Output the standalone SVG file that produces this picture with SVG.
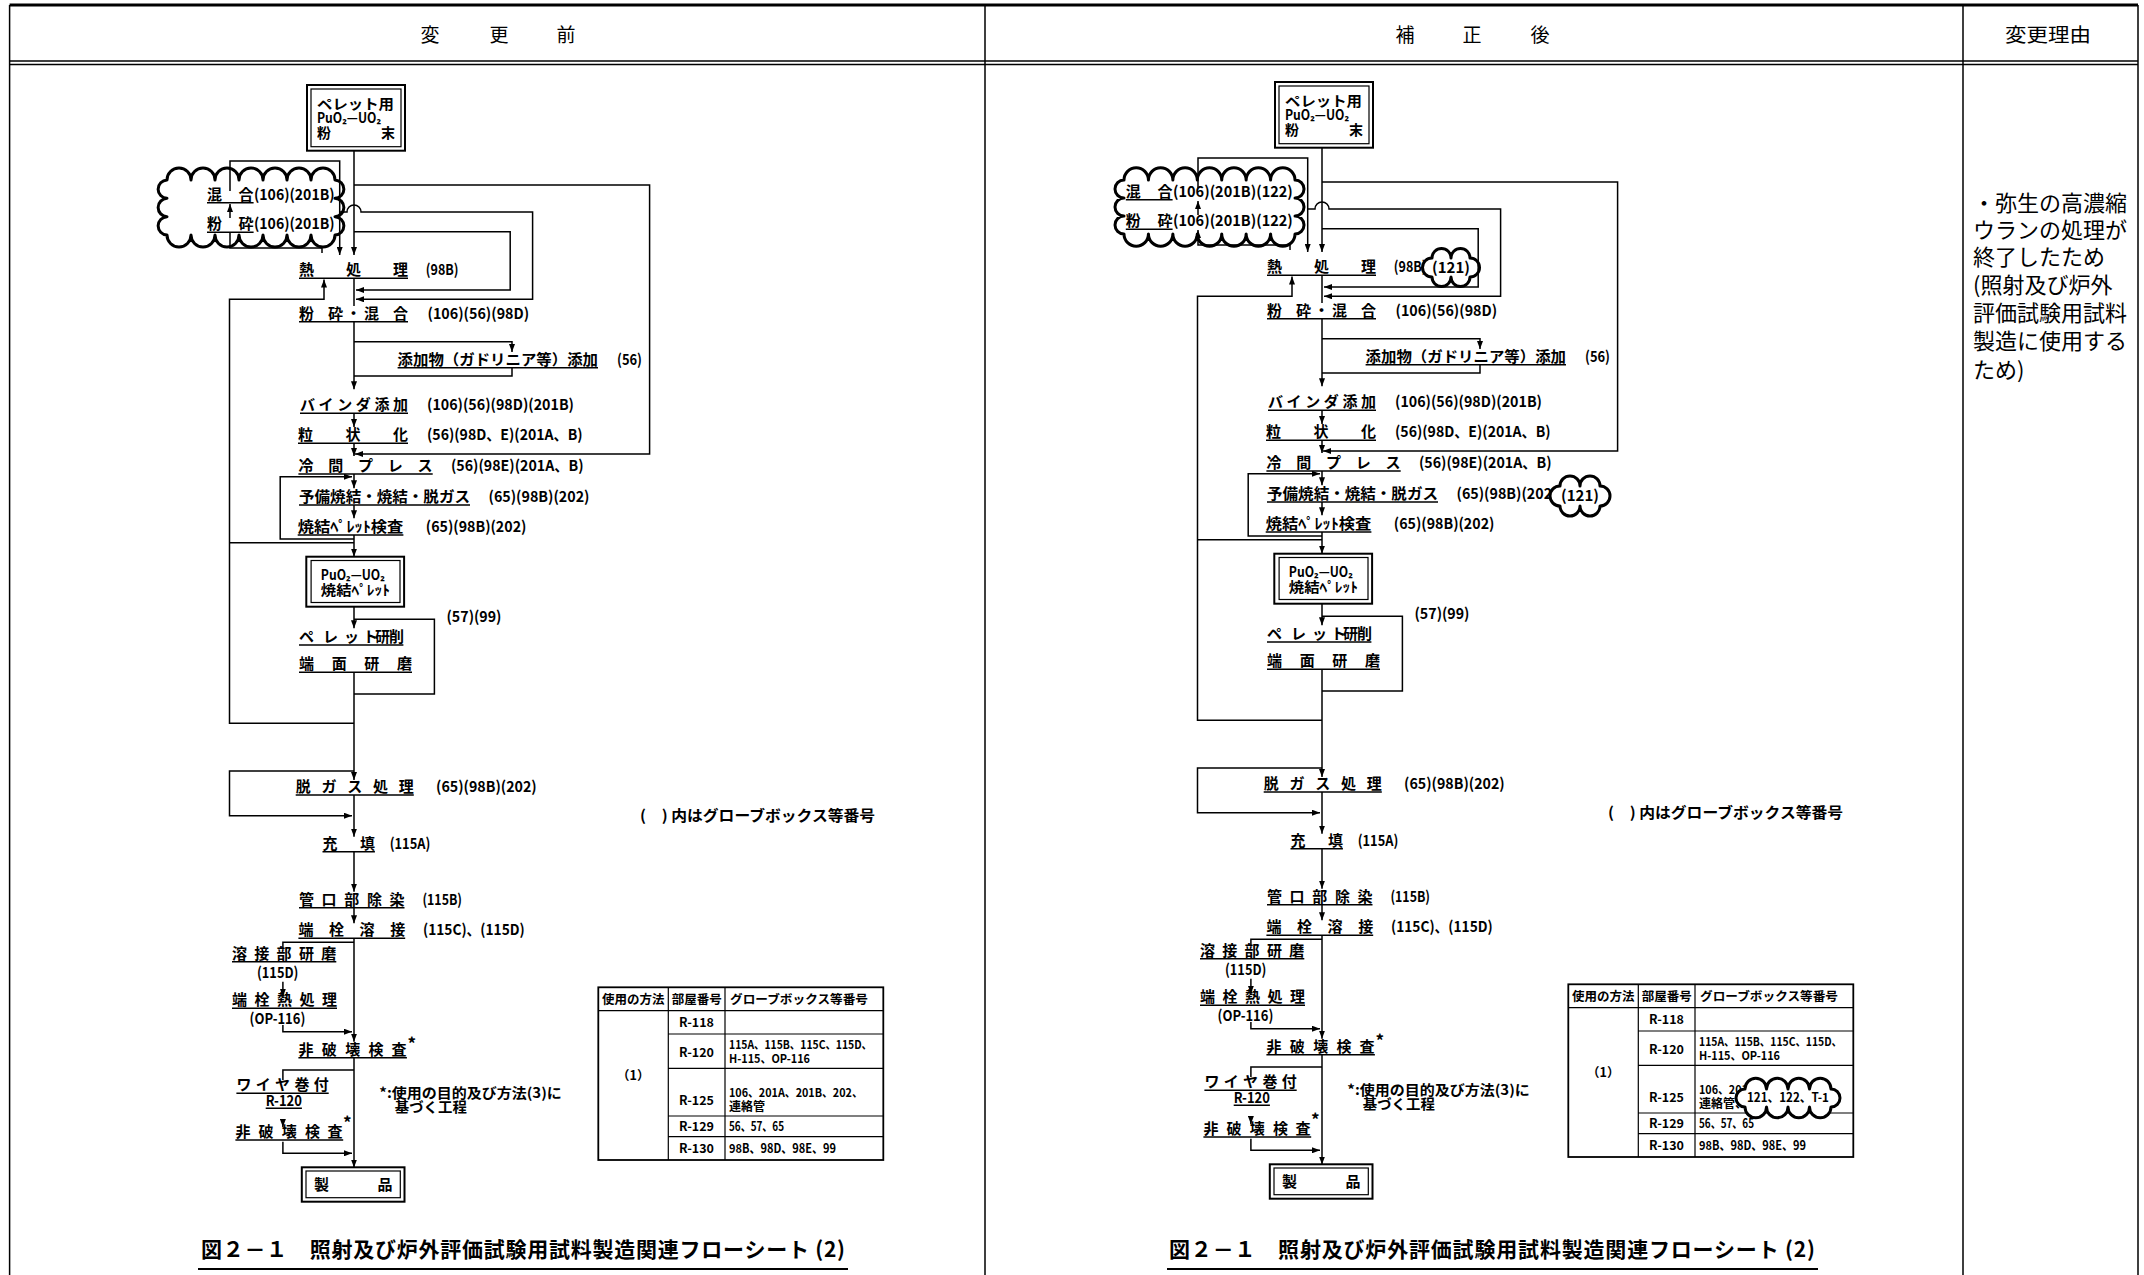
<svg xmlns="http://www.w3.org/2000/svg" width="2144" height="1275" viewBox="0 0 2144 1275">
<style>
.t{font-family:"Noto Sans CJK JP","Noto Sans",sans-serif;font-weight:700;font-size:15px;fill:#000}
.b{font-size:14px}
.ast{font-size:17px}
.tt{font-family:"Noto Sans CJK JP","Noto Sans",sans-serif;font-weight:700;font-size:12.5px;fill:#000}
.ts{font-size:12px}
.hd{font-family:"Noto Sans CJK JP",sans-serif;font-size:19px;fill:#000}
.cap{font-family:"Noto Sans CJK JP",sans-serif;font-weight:700;font-size:21px;fill:#000}
.rs{font-family:"Noto Sans CJK JP",sans-serif;font-size:22px;fill:#000}
.ul{stroke:#000;stroke-width:1.4;fill:none}
.cn{fill:none;stroke:#000;stroke-width:1.5}
.ar{marker-end:url(#ah)}
.bo{fill:#fff;stroke:#000;stroke-width:2}
.bi{fill:none;stroke:#000;stroke-width:1.2}
.cl{fill:#fff;stroke:#000;stroke-width:3;stroke-linejoin:round}
.tbo{fill:#fff;stroke:#000;stroke-width:1.8}
.tb{fill:none;stroke:#000;stroke-width:1.2}
.fr{fill:none;stroke:#000;stroke-width:1.5}
</style>
<defs>
<marker id="ah" viewBox="0 0 8 6" refX="8" refY="3" markerWidth="8" markerHeight="6" markerUnits="userSpaceOnUse" orient="auto"><path d="M0,0L8,3L0,6z" fill="#000"/></marker>
</defs>
<rect x="0" y="0" width="2144" height="1275" fill="#fff"/>

<g id="frame">
<path class="fr" style="stroke-width:3" d="M9.6,5H2138"/>
<path class="fr" d="M9.6,61H2138M9.6,64.5H2138"/>
<path class="fr" d="M9.6,5V1275M985,5V1275M1963,5V1275M2138,5V1275"/>
</g>
<g id="header">
<text class="hd" x="430" y="42" text-anchor="middle">変</text>
<text class="hd" x="499" y="42" text-anchor="middle">更</text>
<text class="hd" x="566" y="42" text-anchor="middle">前</text>
<text class="hd" x="1405" y="42" text-anchor="middle">補</text>
<text class="hd" x="1472" y="42" text-anchor="middle">正</text>
<text class="hd" x="1540" y="42" text-anchor="middle">後</text>
<text class="hd" x="2005" y="42" textLength="86" lengthAdjust="spacingAndGlyphs">変更理由</text>
</g>

<g id="reason">
<text class="rs" x="1973" y="211">・弥生の高濃縮</text>
<text class="rs" x="1973" y="238">ウランの処理が</text>
<text class="rs" x="1973" y="265">終了したため</text>
<text class="rs" x="1973" y="293">(照射及び炉外</text>
<text class="rs" x="1973" y="321">評価試験用試料</text>
<text class="rs" x="1973" y="349">製造に使用する</text>
<text class="rs" x="1973" y="378">ため)</text>
</g>

<g id="captions">
<text class="cap" x="201" y="1257" textLength="644" lengthAdjust="spacing">図２－１　照射及び炉外評価試験用試料製造関連フローシート (2)</text>
<path class="fr" style="stroke-width:2.2" d="M198,1269H848"/>
<text class="cap" x="1169" y="1257" textLength="646" lengthAdjust="spacing">図２－１　照射及び炉外評価試験用試料製造関連フローシート (2)</text>
<path class="fr" style="stroke-width:2.2" d="M1167,1269H1818"/>
</g>

<!-- ================= LEFT PANEL (変更前) ================= -->
<g id="panel-before">
<g id="cloud-mix-before"><path class="cl" d="M167,180a12,12 0 0 1 24,0a12,12 0 0 1 24,0a12,12 0 0 1 24,0a12,12 0 0 1 24,0a12,12 0 0 1 24,0a12,12 0 0 1 24,0a12,12 0 0 1 24,0a9.17,9.17 0 0 1 0,18.33a9.17,9.17 0 0 1 0,18.33a9.17,9.17 0 0 1 0,18.33a12,12 0 0 1 -24,0a12,12 0 0 1 -24,0a12,12 0 0 1 -24,0a12,12 0 0 1 -24,0a12,12 0 0 1 -24,0a12,12 0 0 1 -24,0a12,12 0 0 1 -24,0a9.17,9.17 0 0 1 0,-18.33a9.17,9.17 0 0 1 0,-18.33a9.17,9.17 0 0 1 0,-18.33z"/></g>

<g id="n-powder"><rect class="bo" x="307" y="85" width="98" height="65.7"/><rect class="bi" x="311" y="89" width="90" height="57.7"/><text class="t b" x="317" y="109" textLength="77" lengthAdjust="spacingAndGlyphs">ペレット用</text><text class="t b" x="317" y="122.5" textLength="64" lengthAdjust="spacingAndGlyphs">PuO₂—UO₂</text><text class="t b" x="317 381" y="138">粉末</text></g>
<g id="n-mix"><text class="t" x="207 238.6" y="199.7">混合</text><text class="t" x="254" y="199.7" textLength="80.6" lengthAdjust="spacingAndGlyphs">(106)(201B)</text><path class="ul" d="M207,202.7H253.6"/></g>
<g id="n-crush"><text class="t" x="207 238.6" y="229.3">粉砕</text><text class="t" x="254" y="229.3" textLength="80.6" lengthAdjust="spacingAndGlyphs">(106)(201B)</text><path class="ul" d="M207,232.3H253.6"/></g>
<g id="n-heat"><text class="t" x="299 346 393" y="275.3">熱処理</text><text class="t" x="425.8" y="275.3" textLength="32.7" lengthAdjust="spacingAndGlyphs">(98B)</text><path class="ul" d="M299,278.3H408"/></g>
<g id="n-crushmix"><text class="t" x="299 328 346 364 393" y="318.7">粉砕・混合</text><text class="t" x="427.5" y="318.7" textLength="101.6" lengthAdjust="spacingAndGlyphs">(106)(56)(98D)</text><path class="ul" d="M299,321.7H408"/></g>
<g id="n-additive"><text class="t" x="397.6" y="364.7" textLength="200.4" lengthAdjust="spacingAndGlyphs">添加物（ガドリニア等）添加</text><text class="t" x="617" y="364.7" textLength="25" lengthAdjust="spacingAndGlyphs">(56)</text><path class="ul" d="M397.6,367.7H598"/></g>
<g id="n-binder"><text class="t" x="300 318.6 337.2 355.8 374.4 393" y="410.3">バインダ添加</text><text class="t" x="427" y="410.3" textLength="147" lengthAdjust="spacingAndGlyphs">(106)(56)(98D)(201B)</text><path class="ul" d="M300,413.3H408"/></g>
<g id="n-granule"><text class="t" x="298 345.5 393" y="440.3">粒状化</text><text class="t" x="427" y="440.3" textLength="155.6" lengthAdjust="spacingAndGlyphs">(56)(98D、E)(201A、B)</text><path class="ul" d="M298,443.3H408"/></g>
<g id="n-press"><text class="t" x="298.4 328.2 358 387.8 417.6" y="471">冷間プレス</text><text class="t" x="451" y="471" textLength="132.5" lengthAdjust="spacingAndGlyphs">(56)(98E)(201A、B)</text><path class="ul" d="M298.4,474H432.7"/></g>
<g id="n-sinter"><text class="t" x="299" y="502" textLength="171" lengthAdjust="spacingAndGlyphs">予備焼結・焼結・脱ガス</text><text class="t" x="488.5" y="502" textLength="101" lengthAdjust="spacingAndGlyphs">(65)(98B)(202)</text><path class="ul" d="M299,505H470"/></g>
<g id="n-inspect"><text class="t" x="297.7" y="532" textLength="105.7" lengthAdjust="spacingAndGlyphs">焼結ﾍﾟﾚｯﾄ検査</text><text class="t" x="425.8" y="532" textLength="100.6" lengthAdjust="spacingAndGlyphs">(65)(98B)(202)</text><path class="ul" d="M297.7,535H403.4"/></g>
<g id="n-pellet"><rect class="bo" x="306.3" y="556.7" width="97.8" height="50"/><rect class="bi" x="311.1" y="560.5" width="88.9" height="42"/><text class="t b" x="320.8" y="580" textLength="64" lengthAdjust="spacingAndGlyphs">PuO₂—UO₂</text><text class="t b" x="320.8" y="595" textLength="69" lengthAdjust="spacingAndGlyphs">焼結ﾍﾟﾚｯﾄ</text></g>
<g id="n-grind"><text class="t" x="299 323 344 363 375 389" y="642">ペレット研削</text><text class="t" x="446.5" y="622" textLength="55" lengthAdjust="spacingAndGlyphs">(57)(99)</text><path class="ul" d="M299,645H403.4"/></g>
<g id="n-endface"><text class="t" x="299 331.7 364.3 397" y="669.3">端面研磨</text><path class="ul" d="M299,672.3H412"/></g>
<g id="n-degas"><text class="t" x="295.7 321.5 347.3 373 398.8" y="792">脱ガス処理</text><text class="t" x="436" y="792" textLength="100.7" lengthAdjust="spacingAndGlyphs">(65)(98B)(202)</text><path class="ul" d="M295.7,795H413.8"/></g>
<g id="n-fill"><text class="t" x="322.5 359.9" y="848.7">充填</text><text class="t" x="389.7" y="848.7" textLength="40.6" lengthAdjust="spacingAndGlyphs">(115A)</text><path class="ul" d="M322.5,851.7H374.9"/></g>
<g id="n-decon"><text class="t" x="299 321.6 344.3 366.9 389.5" y="904.7">管口部除染</text><text class="t" x="422.4" y="904.7" textLength="39.6" lengthAdjust="spacingAndGlyphs">(115B)</text><path class="ul" d="M299,907.7H404.5"/></g>
<g id="n-weld"><text class="t" x="298.4 329 359.6 390.2" y="935.3">端栓溶接</text><text class="t" x="423" y="935.3" textLength="101.7" lengthAdjust="spacingAndGlyphs">(115C)、(115D)</text><path class="ul" d="M298.4,938.3H405.2"/></g>
<g id="n-weldgrind"><text class="t" x="232 254.3 276.6 299 321.3" y="958.7">溶接部研磨</text><text class="t" x="257" y="977.5" textLength="41.4" lengthAdjust="spacingAndGlyphs">(115D)</text><path class="ul" d="M232,961.7H336.3"/></g>
<g id="n-plugheat"><text class="t" x="232 254.5 277 299.5 322" y="1005.3">端栓熱処理</text><text class="t" x="249.5" y="1023.5" textLength="55.8" lengthAdjust="spacingAndGlyphs">(OP-116)</text><path class="ul" d="M232,1008.3H337"/></g>
<g id="n-ndt1"><text class="t" x="298.4 321.8 345.2 368.6 391.5" y="1054.7">非破壊検査</text><text class="t ast" x="407.5" y="1050">*</text><path class="ul" d="M298.4,1057.7H406.9"/></g>
<g id="n-wire"><text class="t" x="236.4 255.7 275 294.4 313.7" y="1090.3">ワイヤ巻付</text><text class="t" x="265.7" y="1105.8" textLength="36.2" lengthAdjust="spacingAndGlyphs">R-120</text><path class="ul" d="M236.4,1093.3H328.7M265.7,1108.3H301.9"/></g>
<g id="n-ndt2"><text class="t" x="235.4 258.6 281.8 305 327.5" y="1137">非破壊検査</text><text class="t ast" x="343" y="1129">*</text><path class="ul" d="M235.4,1140H343.2"/></g>
<g id="n-product"><rect class="bo" x="301.8" y="1167.3" width="102.7" height="34.4"/><rect class="bi" x="306" y="1171" width="94.3" height="26.7"/><text class="t" x="314 377.6" y="1190">製品</text></g>
<g id="note-before"><text class="t b" x="379.3" y="1098" textLength="182.5" lengthAdjust="spacingAndGlyphs">*:使用の目的及び方法(3)に</text><text class="t b" x="394.8" y="1112" textLength="72" lengthAdjust="spacingAndGlyphs">基づく工程</text></g>
<g id="legend-before"><text class="t" x="640" y="821" textLength="235" lengthAdjust="spacingAndGlyphs">(　) 内はグローブボックス等番号</text></g>

<g id="connectors-before">
<path class="cn ar" d="M354,150.7V255"/>
<path class="cn" d="M322,253V248H230V233"/>
<path class="cn ar" d="M230,218V204"/>
<path class="cn ar" d="M230,191V161H339.7V255"/>
<path class="cn ar" d="M354,185H649.6V454H355"/>
<path class="cn ar" d="M339.7,212H347A7,7 0 0 1 361,212H532.6V299.3H356"/>
<path class="cn ar" d="M354,231.7H510.2V290H356"/>
<path class="cn" d="M354,278.3V306"/>
<path class="cn ar" d="M354,723.3H229.5V299.3H324V279.5"/>
<path class="cn ar" d="M354,321.7V389.3"/>
<path class="cn ar" d="M354,341.7H512V352"/>
<path class="cn" d="M512,367.7V376H354"/>
<path class="cn ar" d="M354,413.3V427"/>
<path class="cn ar" d="M354,443.3V456"/>
<path class="cn ar" d="M354,474V488.3"/>
<path class="cn ar" d="M354,539H280.2V476.7H352"/>
<path class="cn ar" d="M354,505V518.3"/>
<path class="cn ar" d="M354,535V556.7"/>
<path class="cn" d="M354,542.7H229.5"/>
<path class="cn ar" d="M354,606.7V628.3"/>
<path class="cn" d="M354,619.3H434.4V694H354"/>
<path class="cn ar" d="M354,672.3V780"/>
<path class="cn ar" d="M354,771H229.5V815.7H352"/>
<path class="cn ar" d="M354,795V836.7"/>
<path class="cn ar" d="M354,851.7V891.7"/>
<path class="cn ar" d="M354,907.7V923.3"/>
<path class="cn ar" d="M354,938.3V1041.7"/>
<path class="cn" d="M354,942.3H282.9V948.3"/>
<path class="cn ar" d="M282.9,981.7V996.7"/>
<path class="cn ar" d="M282.9,1025V1031.7H352"/>
<path class="cn ar" d="M354,1057.7V1167.5"/>
<path class="cn" d="M354,1070H282.9V1080"/>
<path class="cn ar" d="M282.9,1119.3V1127"/>
<path class="cn ar" d="M282.9,1141.7V1153.3H352"/>
</g>

<g id="table-before">
<rect class="tbo" x="598.3" y="987.3" width="285" height="172.7"/>
<path class="tb" d="M598.3,1010.7H883.3M668.3,987.3V1160M725,987.3V1160M668.3,1034H883.3M668.3,1068.3H883.3M668.3,1116H883.3M668.3,1136.7H883.3"/>
<text class="tt" x="633.3" y="1004" text-anchor="middle">使用の方法</text>
<text class="tt" x="696.7" y="1004" text-anchor="middle">部屋番号</text>
<text class="tt" x="730" y="1004" textLength="138" lengthAdjust="spacingAndGlyphs">グローブボックス等番号</text>
<text class="tt" x="633.3" y="1080" text-anchor="middle">（1）</text>
<text class="tt" x="696.5" y="1027" text-anchor="middle">R-118</text>
<text class="tt" x="696.5" y="1056.5" text-anchor="middle">R-120</text>
<text class="tt ts" x="729" y="1049" textLength="143" lengthAdjust="spacingAndGlyphs">115A、115B、115C、115D、</text>
<text class="tt ts" x="729" y="1062.5" textLength="81" lengthAdjust="spacingAndGlyphs">H-115、OP-116</text>
<text class="tt" x="696.5" y="1104.5" text-anchor="middle">R-125</text>
<text class="tt ts" x="729" y="1097" textLength="133.7" lengthAdjust="spacingAndGlyphs">106、201A、201B、202、</text>
<text class="tt ts" x="729" y="1111">連絡管</text>
<text class="tt" x="696.5" y="1131" text-anchor="middle">R-129</text>
<text class="tt" x="729" y="1131" textLength="55" lengthAdjust="spacingAndGlyphs">56、57、65</text>
<text class="tt" x="696.5" y="1153" text-anchor="middle">R-130</text>
<text class="tt" x="729" y="1153" textLength="107" lengthAdjust="spacingAndGlyphs">98B、98D、98E、99</text>
</g>
</g>

<!-- ================= RIGHT PANEL (補正後) ================= -->
<g id="panel-after" transform="translate(968,-3)">
<g id="cloud-mix-after"><path class="cl" d="M156,183a12.21,12.21 0 0 1 24.43,0a12.21,12.21 0 0 1 24.43,0a12.21,12.21 0 0 1 24.43,0a12.21,12.21 0 0 1 24.43,0a12.21,12.21 0 0 1 24.43,0a12.21,12.21 0 0 1 24.43,0a12.21,12.21 0 0 1 24.43,0a9,9 0 0 1 0,18a9,9 0 0 1 0,18a9,9 0 0 1 0,18a12.21,12.21 0 0 1 -24.43,0a12.21,12.21 0 0 1 -24.43,0a12.21,12.21 0 0 1 -24.43,0a12.21,12.21 0 0 1 -24.43,0a12.21,12.21 0 0 1 -24.43,0a12.21,12.21 0 0 1 -24.43,0a12.21,12.21 0 0 1 -24.43,0a9,9 0 0 1 0,-18a9,9 0 0 1 0,-18a9,9 0 0 1 0,-18z"/></g>

<g id="n-powder-r"><rect class="bo" x="307" y="85" width="98" height="65.7"/><rect class="bi" x="311" y="89" width="90" height="57.7"/><text class="t b" x="317" y="109" textLength="77" lengthAdjust="spacingAndGlyphs">ペレット用</text><text class="t b" x="317" y="122.5" textLength="64" lengthAdjust="spacingAndGlyphs">PuO₂—UO₂</text><text class="t b" x="317 381" y="138">粉末</text></g>
<g id="n-mix-r"><text class="t" x="157.8 189.6" y="199.7">混合</text><text class="t" x="205" y="199.7" textLength="119.8" lengthAdjust="spacingAndGlyphs">(106)(201B)(122)</text><path class="ul" d="M157.8,202.7H204.6"/></g>
<g id="n-crush-r"><text class="t" x="157.8 189.6" y="229.3">粉砕</text><text class="t" x="205" y="229.3" textLength="119.8" lengthAdjust="spacingAndGlyphs">(106)(201B)(122)</text><path class="ul" d="M157.8,232.3H204.6"/></g>
<g id="n-heat-r"><text class="t" x="299 346 393" y="275.3">熱処理</text><text class="t" x="425.8" y="275.3" textLength="32.7" lengthAdjust="spacingAndGlyphs">(98B)</text><path class="ul" d="M299,278.3H408"/></g>
<g id="n-crushmix-r"><text class="t" x="299 328 346 364 393" y="318.7">粉砕・混合</text><text class="t" x="427.5" y="318.7" textLength="101.6" lengthAdjust="spacingAndGlyphs">(106)(56)(98D)</text><path class="ul" d="M299,321.7H408"/></g>
<g id="n-additive-r"><text class="t" x="397.6" y="364.7" textLength="200.4" lengthAdjust="spacingAndGlyphs">添加物（ガドリニア等）添加</text><text class="t" x="617" y="364.7" textLength="25" lengthAdjust="spacingAndGlyphs">(56)</text><path class="ul" d="M397.6,367.7H598"/></g>
<g id="n-binder-r"><text class="t" x="300 318.6 337.2 355.8 374.4 393" y="410.3">バインダ添加</text><text class="t" x="427" y="410.3" textLength="147" lengthAdjust="spacingAndGlyphs">(106)(56)(98D)(201B)</text><path class="ul" d="M300,413.3H408"/></g>
<g id="n-granule-r"><text class="t" x="298 345.5 393" y="440.3">粒状化</text><text class="t" x="427" y="440.3" textLength="155.6" lengthAdjust="spacingAndGlyphs">(56)(98D、E)(201A、B)</text><path class="ul" d="M298,443.3H408"/></g>
<g id="n-press-r"><text class="t" x="298.4 328.2 358 387.8 417.6" y="471">冷間プレス</text><text class="t" x="451" y="471" textLength="132.5" lengthAdjust="spacingAndGlyphs">(56)(98E)(201A、B)</text><path class="ul" d="M298.4,474H432.7"/></g>
<g id="n-sinter-r"><text class="t" x="299" y="502" textLength="171" lengthAdjust="spacingAndGlyphs">予備焼結・焼結・脱ガス</text><text class="t" x="488.5" y="502" textLength="101" lengthAdjust="spacingAndGlyphs">(65)(98B)(202)</text><path class="ul" d="M299,505H470"/></g>
<g id="n-inspect-r"><text class="t" x="297.7" y="532" textLength="105.7" lengthAdjust="spacingAndGlyphs">焼結ﾍﾟﾚｯﾄ検査</text><text class="t" x="425.8" y="532" textLength="100.6" lengthAdjust="spacingAndGlyphs">(65)(98B)(202)</text><path class="ul" d="M297.7,535H403.4"/></g>
<g id="n-pellet-r"><rect class="bo" x="306.3" y="556.7" width="97.8" height="50"/><rect class="bi" x="311.1" y="560.5" width="88.9" height="42"/><text class="t b" x="320.8" y="580" textLength="64" lengthAdjust="spacingAndGlyphs">PuO₂—UO₂</text><text class="t b" x="320.8" y="595" textLength="69" lengthAdjust="spacingAndGlyphs">焼結ﾍﾟﾚｯﾄ</text></g>
<g id="n-grind-r"><text class="t" x="299 323 344 363 375 389" y="642">ペレット研削</text><text class="t" x="446.5" y="622" textLength="55" lengthAdjust="spacingAndGlyphs">(57)(99)</text><path class="ul" d="M299,645H403.4"/></g>
<g id="n-endface-r"><text class="t" x="299 331.7 364.3 397" y="669.3">端面研磨</text><path class="ul" d="M299,672.3H412"/></g>
<g id="n-degas-r"><text class="t" x="295.7 321.5 347.3 373 398.8" y="792">脱ガス処理</text><text class="t" x="436" y="792" textLength="100.7" lengthAdjust="spacingAndGlyphs">(65)(98B)(202)</text><path class="ul" d="M295.7,795H413.8"/></g>
<g id="n-fill-r"><text class="t" x="322.5 359.9" y="848.7">充填</text><text class="t" x="389.7" y="848.7" textLength="40.6" lengthAdjust="spacingAndGlyphs">(115A)</text><path class="ul" d="M322.5,851.7H374.9"/></g>
<g id="n-decon-r"><text class="t" x="299 321.6 344.3 366.9 389.5" y="904.7">管口部除染</text><text class="t" x="422.4" y="904.7" textLength="39.6" lengthAdjust="spacingAndGlyphs">(115B)</text><path class="ul" d="M299,907.7H404.5"/></g>
<g id="n-weld-r"><text class="t" x="298.4 329 359.6 390.2" y="935.3">端栓溶接</text><text class="t" x="423" y="935.3" textLength="101.7" lengthAdjust="spacingAndGlyphs">(115C)、(115D)</text><path class="ul" d="M298.4,938.3H405.2"/></g>
<g id="n-weldgrind-r"><text class="t" x="232 254.3 276.6 299 321.3" y="958.7">溶接部研磨</text><text class="t" x="257" y="977.5" textLength="41.4" lengthAdjust="spacingAndGlyphs">(115D)</text><path class="ul" d="M232,961.7H336.3"/></g>
<g id="n-plugheat-r"><text class="t" x="232 254.5 277 299.5 322" y="1005.3">端栓熱処理</text><text class="t" x="249.5" y="1023.5" textLength="55.8" lengthAdjust="spacingAndGlyphs">(OP-116)</text><path class="ul" d="M232,1008.3H337"/></g>
<g id="n-ndt1-r"><text class="t" x="298.4 321.8 345.2 368.6 391.5" y="1054.7">非破壊検査</text><text class="t ast" x="407.5" y="1050">*</text><path class="ul" d="M298.4,1057.7H406.9"/></g>
<g id="n-wire-r"><text class="t" x="236.4 255.7 275 294.4 313.7" y="1090.3">ワイヤ巻付</text><text class="t" x="265.7" y="1105.8" textLength="36.2" lengthAdjust="spacingAndGlyphs">R-120</text><path class="ul" d="M236.4,1093.3H328.7M265.7,1108.3H301.9"/></g>
<g id="n-ndt2-r"><text class="t" x="235.4 258.6 281.8 305 327.5" y="1137">非破壊検査</text><text class="t ast" x="343" y="1129">*</text><path class="ul" d="M235.4,1140H343.2"/></g>
<g id="n-product-r"><rect class="bo" x="301.8" y="1167.3" width="102.7" height="34.4"/><rect class="bi" x="306" y="1171" width="94.3" height="26.7"/><text class="t" x="314 377.6" y="1190">製品</text></g>
<g id="note-after"><text class="t b" x="379.3" y="1098" textLength="182.5" lengthAdjust="spacingAndGlyphs">*:使用の目的及び方法(3)に</text><text class="t b" x="394.8" y="1112" textLength="72" lengthAdjust="spacingAndGlyphs">基づく工程</text></g>
<g id="legend-after"><text class="t" x="640" y="821" textLength="235" lengthAdjust="spacingAndGlyphs">(　) 内はグローブボックス等番号</text></g>

<g id="cloud-heat-after"><path class="cl" d="M464,261a9.5,9.5 0 0 1 19,0a9.5,9.5 0 0 1 19,0a9.5,9.5 0 0 1 0,19a9.5,9.5 0 0 1 -19,0a9.5,9.5 0 0 1 -19,0a9.5,9.5 0 0 1 0,-19z"/><text class="t" x="483" y="276" text-anchor="middle">(121)</text></g>
<g id="cloud-sinter-after"><path class="cl" d="M592,489a10,10 0 0 1 20,0a10,10 0 0 1 20,0a10,10 0 0 1 0,20a10,10 0 0 1 -20,0a10,10 0 0 1 -20,0a10,10 0 0 1 0,-20z"/><text class="t" x="612" y="504" text-anchor="middle">(121)</text></g>

<g id="connectors-after">
<path class="cn ar" d="M354,150.7V255"/>
<path class="cn" d="M322,253V248H230V244"/>
<path class="cn ar" d="M230,244V233"/>
<path class="cn ar" d="M230,218V204"/>
<path class="cn ar" d="M230,191V161H339.7V255"/>
<path class="cn ar" d="M354,185H649.6V454H355"/>
<path class="cn ar" d="M339.7,212H347A7,7 0 0 1 361,212H532.6V299.3H356"/>
<path class="cn ar" d="M354,231.7H510.2V290H356"/>
<path class="cn" d="M354,278.3V306"/>
<path class="cn ar" d="M354,723.3H229.5V299.3H324V279.5"/>
<path class="cn ar" d="M354,321.7V389.3"/>
<path class="cn ar" d="M354,341.7H512V352"/>
<path class="cn" d="M512,367.7V376H354"/>
<path class="cn ar" d="M354,413.3V427"/>
<path class="cn ar" d="M354,443.3V456"/>
<path class="cn ar" d="M354,474V488.3"/>
<path class="cn ar" d="M354,539H280.2V476.7H352"/>
<path class="cn ar" d="M354,505V518.3"/>
<path class="cn ar" d="M354,535V556.7"/>
<path class="cn" d="M354,542.7H229.5"/>
<path class="cn ar" d="M354,606.7V628.3"/>
<path class="cn" d="M354,619.3H434.4V694H354"/>
<path class="cn ar" d="M354,672.3V780"/>
<path class="cn ar" d="M354,771H229.5V815.7H352"/>
<path class="cn ar" d="M354,795V836.7"/>
<path class="cn ar" d="M354,851.7V891.7"/>
<path class="cn ar" d="M354,907.7V923.3"/>
<path class="cn ar" d="M354,938.3V1041.7"/>
<path class="cn" d="M354,942.3H282.9V948.3"/>
<path class="cn ar" d="M282.9,981.7V996.7"/>
<path class="cn ar" d="M282.9,1025V1031.7H352"/>
<path class="cn ar" d="M354,1057.7V1167.5"/>
<path class="cn" d="M354,1070H282.9V1080"/>
<path class="cn ar" d="M282.9,1119.3V1127"/>
<path class="cn ar" d="M282.9,1141.7V1153.3H352"/>
</g>
</g>

<g id="table-after" transform="translate(970,-3)">
<rect class="tbo" x="598.3" y="987.3" width="285" height="172.7"/>
<path class="tb" d="M598.3,1010.7H883.3M668.3,987.3V1160M725,987.3V1160M668.3,1034H883.3M668.3,1068.3H883.3M668.3,1116H883.3M668.3,1136.7H883.3"/>
<text class="tt" x="633.3" y="1004" text-anchor="middle">使用の方法</text>
<text class="tt" x="696.7" y="1004" text-anchor="middle">部屋番号</text>
<text class="tt" x="730" y="1004" textLength="138" lengthAdjust="spacingAndGlyphs">グローブボックス等番号</text>
<text class="tt" x="633.3" y="1080" text-anchor="middle">（1）</text>
<text class="tt" x="696.5" y="1027" text-anchor="middle">R-118</text>
<text class="tt" x="696.5" y="1056.5" text-anchor="middle">R-120</text>
<text class="tt ts" x="729" y="1049" textLength="143" lengthAdjust="spacingAndGlyphs">115A、115B、115C、115D、</text>
<text class="tt ts" x="729" y="1062.5" textLength="81" lengthAdjust="spacingAndGlyphs">H-115、OP-116</text>
<text class="tt" x="696.5" y="1104.5" text-anchor="middle">R-125</text>
<text class="tt ts" x="729" y="1097" textLength="133.7" lengthAdjust="spacingAndGlyphs">106、201A、201B、202、</text>
<text class="tt ts" x="729" y="1111">連絡管、</text>
<text class="tt" x="696.5" y="1131" text-anchor="middle">R-129</text>
<text class="tt" x="729" y="1131" textLength="55" lengthAdjust="spacingAndGlyphs">56、57、65</text>
<text class="tt" x="696.5" y="1153" text-anchor="middle">R-130</text>
<text class="tt" x="729" y="1153" textLength="107" lengthAdjust="spacingAndGlyphs">98B、98D、98E、99</text>
<g id="cloud-table-after"><path class="cl" d="M775,1092a10.75,10.75 0 0 1 21.5,0a10.75,10.75 0 0 1 21.5,0a10.75,10.75 0 0 1 21.5,0a10.75,10.75 0 0 1 21.5,0a9,9 0 0 1 0,18a10.75,10.75 0 0 1 -21.5,0a10.75,10.75 0 0 1 -21.5,0a10.75,10.75 0 0 1 -21.5,0a10.75,10.75 0 0 1 -21.5,0a9,9 0 0 1 0,-18z"/><text class="tt" x="777" y="1105" textLength="82" lengthAdjust="spacingAndGlyphs">121、122、T-1</text></g>
</g>
</svg>
